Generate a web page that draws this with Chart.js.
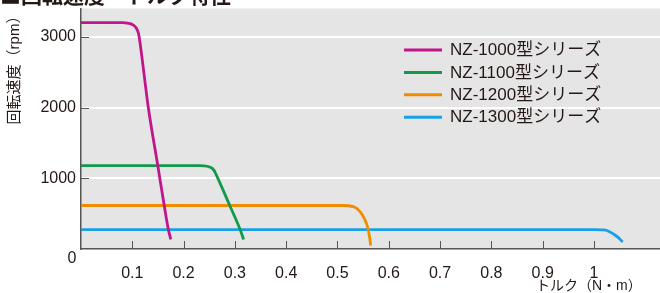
<!DOCTYPE html>
<html>
<head>
<meta charset="utf-8">
<script src="https://cdn.jsdelivr.net/npm/chart.js@4.4.1/dist/chart.umd.min.js"></script>
<style>
  html, body { margin: 0; padding: 0; background: #ffffff; overflow: hidden; }
  #wrap { position: relative; width: 660px; height: 293px; }
  #title { position: absolute; left: 0; top: -16px; font: bold 21px "Noto Sans CJK JP", sans-serif; line-height: 21px; color: #231815; white-space: nowrap; z-index: 2; }
  canvas { position: absolute; left: 0; top: 0; }
</style>
</head>
<body>
<div id="wrap">
  <div id="title">■回転速度－トルク特性</div>
  <canvas id="c" width="660" height="293"></canvas>
</div>
<script>
// ---- data ----
const seriesNames = ['NZ-1000型シリーズ', 'NZ-1100型シリーズ', 'NZ-1200型シリーズ', 'NZ-1300型シリーズ'];
const seriesColors = ['#c0168c', '#119a4a', '#f08c00', '#1aa0e4'];

const torque1000 = [0, 0.080, 0.093, 0.102, 0.108, 0.112, 0.115, 0.1312, 0.1495, 0.1624, 0.1702, 0.175];
const rpm1000    = [3200, 3200, 3190, 3165, 3120, 3050, 2920, 2000, 1188, 608, 278, 137];

const torque1100 = [0, 0.232, 0.246, 0.254, 0.259, 0.263, 0.2904, 0.310, 0.317];
const rpm1100    = [1180, 1180, 1170, 1148, 1115, 1060, 608, 278, 135];

const torque1200 = [0, 0.508, 0.531, 0.544, 0.5536, 0.5601, 0.5634, 0.5647];
const rpm1200    = [615, 615, 598, 528, 410, 269, 127, 50];

const torque1300 = [0, 1.002, 1.016, 1.025, 1.038, 1.047, 1.056];
const rpm1300    = [275, 275, 271, 262, 212, 165, 100];

const xTickValues = [0.1, 0.2, 0.3, 0.4, 0.5, 0.6, 0.7, 0.8, 0.9, 1.0];
const xTickLabels = ['0.1', '0.2', '0.3', '0.4', '0.5', '0.6', '0.7', '0.8', '0.9', '1'];
const yTickValues = [1000, 2000, 3000];
const yTickLabels = ['1000', '2000', '3000'];
const originLabel = '0';
const xAxisTitle = 'トルク（N・m）';
const yAxisTitle = '回転速度（rpm）';

// ---- build ----
const FONT = '"Liberation Sans", "Noto Sans CJK JP", sans-serif';
const TEXT = '#231815';
const AXIS = '#555555';

function pts(xs, ys) { return xs.map((x, i) => ({ x: x, y: ys[i] })); }
const allData = [pts(torque1000, rpm1000), pts(torque1100, rpm1100), pts(torque1200, rpm1200), pts(torque1300, rpm1300)];

const datasets = allData.map((d, i) => ({
  label: seriesNames[i],
  data: d,
  borderColor: seriesColors[i],
  backgroundColor: seriesColors[i],
  borderWidth: 2.8,
  pointRadius: 0,
  fill: false,
  cubicInterpolationMode: 'monotone',
  borderCapStyle: 'butt'
}));

const decor = {
  id: 'decor',
  beforeDraw(chart) {
    const { ctx, chartArea: a } = chart;
    ctx.save();
    ctx.fillStyle = '#e5e5e5';
    ctx.fillRect(a.left, a.top, a.right - a.left, a.bottom - a.top);
    ctx.restore();
  },
  afterDraw(chart) {
    const { ctx, chartArea: a, scales: { x, y } } = chart;
    ctx.save();
    // inward ticks
    ctx.strokeStyle = AXIS;
    ctx.lineWidth = 1;
    ctx.beginPath();
    xTickValues.forEach(v => {
      const px = Math.round(x.getPixelForValue(v)) + 0.5;
      ctx.moveTo(px, a.bottom);
      ctx.lineTo(px, a.bottom - 8);
    });
    yTickValues.forEach(v => {
      const py = Math.round(y.getPixelForValue(v)) + 0.5;
      ctx.moveTo(a.left, py);
      ctx.lineTo(a.left + 8, py);
    });
    ctx.stroke();

    // origin label
    ctx.fillStyle = TEXT;
    ctx.font = '16px ' + FONT;
    ctx.textAlign = 'center';
    ctx.textBaseline = 'middle';
    ctx.fillText(originLabel, x.getPixelForValue(0) - 9, y.getPixelForValue(0) + 10);

    // axis titles
    ctx.font = '14px ' + FONT;
    ctx.textAlign = 'left';
    ctx.fillText(xAxisTitle, a.left + 455, a.bottom + 37);
    ctx.save();
    ctx.translate(14.5, a.top + 58);
    ctx.rotate(-Math.PI / 2);
    ctx.textAlign = 'center';
    ctx.font = '15px ' + FONT;
    ctx.fillText(yAxisTitle, 0, 0);
    ctx.restore();

    // legend
    const lx = a.left + 323, ly = a.top + 41.5, step = 22.4;
    chart.data.datasets.forEach((ds, i) => {
      const yy = ly + i * step;
      ctx.strokeStyle = ds.borderColor;
      ctx.lineWidth = 3;
      ctx.beginPath();
      ctx.moveTo(lx, yy);
      ctx.lineTo(lx + 38, yy);
      ctx.stroke();
      ctx.fillStyle = TEXT;
      ctx.font = '17px ' + FONT;
      ctx.textAlign = 'left';
      ctx.textBaseline = 'middle';
      ctx.fillText(ds.label, lx + 46, yy + 0.5);
    });
    ctx.restore();
  }
};

new Chart(document.getElementById('c'), {
  type: 'line',
  data: { datasets: datasets },
  options: {
    responsive: false,
    animation: false,
    events: [],
    layout: { padding: { top: 8.5, right: 0, left: 0, bottom: 0 } },
    plugins: { legend: { display: false }, tooltip: { enabled: false }, title: { display: false } },
    scales: {
      x: {
        type: 'linear',
        min: 0,
        max: 1.1287,
        afterBuildTicks(s) { s.ticks = xTickValues.map(v => ({ value: v })); },
        afterFit(s) { s.height = 44; s.paddingLeft = 0; s.paddingRight = 0; },
        grid: { display: false, drawTicks: false },
        border: { display: true, color: AXIS, width: 1.5 },
        ticks: {
          autoSkip: false,
          maxRotation: 0,
          padding: 15,
          color: TEXT,
          font: { family: FONT, size: 16 },
          callback(v) { const i = xTickValues.findIndex(t => Math.abs(t - v) < 1e-9); return i >= 0 ? xTickLabels[i] : ''; }
        }
      },
      y: {
        type: 'linear',
        min: 0,
        max: 3400,
        afterBuildTicks(s) { s.ticks = yTickValues.map(v => ({ value: v })); },
        afterFit(s) { s.width = 81; s.paddingTop = 0; s.paddingBottom = 0; },
        grid: { display: true, color: '#ffffff', lineWidth: 2, drawTicks: false },
        border: { display: true, color: AXIS, width: 1.5 },
        ticks: {
          padding: 5,
          color: TEXT,
          font: { family: FONT, size: 16 },
          callback(v) { const i = yTickValues.indexOf(v); return i >= 0 ? yTickLabels[i] : ''; }
        }
      }
    }
  },
  plugins: [decor]
});
</script>
</body>
</html>
